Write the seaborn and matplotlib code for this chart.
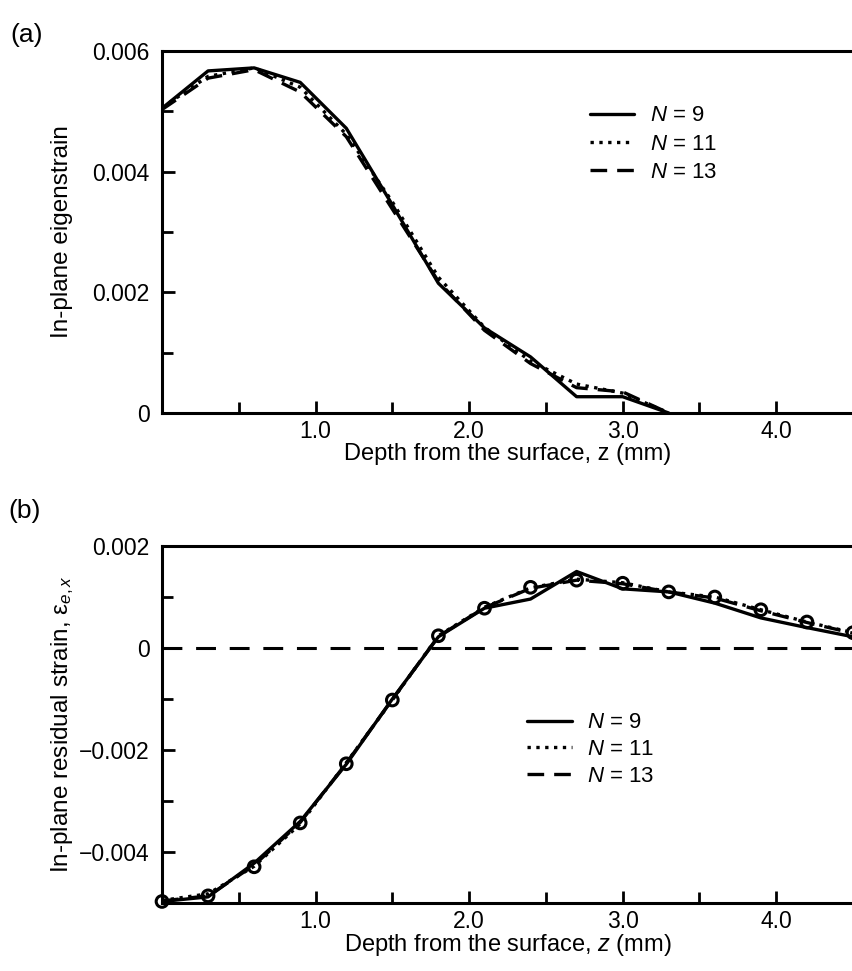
import numpy as np
import pandas as pd
import seaborn as sns
import matplotlib.pyplot as plt
from matplotlib.ticker import FixedLocator

# depth grid (mm)
depth = [0.0, 0.3, 0.6, 0.9, 1.2, 1.5, 1.8, 2.1, 2.4, 2.7, 3.0, 3.3]
depth_b = [0.0, 0.3, 0.6, 0.9, 1.2, 1.5, 1.8, 2.1, 2.4, 2.7, 3.0, 3.3, 3.6, 3.9, 4.2, 4.5]

# (a) in-plane eigenstrain
eig_n9 = [0.00505, 0.00567, 0.00572, 0.00548, 0.00472, 0.00345, 0.00215, 0.00141, 0.00093, 0.00027, 0.00027, 0.0]
eig_n11 = [0.00506, 0.00558, 0.00572, 0.00540, 0.00462, 0.00350, 0.00225, 0.00142, 0.00086, 0.00048, 0.00033, 0.0]
eig_n13 = [0.00503, 0.00555, 0.00569, 0.00532, 0.00458, 0.00338, 0.00218, 0.00137, 0.00082, 0.00042, 0.00035, 0.0]

# (b) in-plane residual strain
res_n9 = [-0.00497, -0.00488, -0.00422, -0.00340, -0.00228, -0.00100, 0.00022, 0.00078, 0.00096, 0.00150, 0.00116, 0.00110, 0.00088, 0.00059, 0.00040, 0.00022]
res_n11 = [-0.00495, -0.00482, -0.00428, -0.00345, -0.00225, -0.00102, 0.00024, 0.00080, 0.00118, 0.00135, 0.00128, 0.00110, 0.00100, 0.00075, 0.00051, 0.00030]
res_n13 = [-0.00496, -0.00486, -0.00426, -0.00342, -0.00226, -0.00101, 0.00023, 0.00079, 0.00117, 0.00133, 0.00126, 0.00110, 0.00098, 0.00073, 0.00050, 0.00029]
res_meas = [-0.00497, -0.00486, -0.00429, -0.00343, -0.00227, -0.00102, 0.00024, 0.00078, 0.00119, 0.00133, 0.00127, 0.00110, 0.00100, 0.00075, 0.00051, 0.00030]

labels = ['$\\it{N}$ = 9', '$\\it{N}$ = 11', '$\\it{N}$ = 13']

sns.set_style('ticks')
plt.rcParams['font.family'] = ['Liberation Sans', 'DejaVu Sans']
plt.rcParams['mathtext.fontset'] = 'custom'
plt.rcParams['mathtext.it'] = 'Liberation Sans:italic'
plt.rcParams['mathtext.rm'] = 'Liberation Sans'
for k in ('text.color', 'axes.labelcolor', 'xtick.color', 'ytick.color', 'axes.edgecolor'):
    plt.rcParams[k] = 'black'

fig = plt.figure(figsize=(8.53, 9.71), dpi=100)
ax1 = fig.add_axes([162/853, 1 - 413/971, (853 - 162)/853, (413 - 51)/971])
ax2 = fig.add_axes([162/853, 1 - 903/971, (853 - 162)/853, (903 - 546)/971])

styles = ['-', ':', (0, (5, 3))]
lw = 2.4

for y, lab, ls in zip([eig_n9, eig_n11, eig_n13], labels, styles):
    sns.lineplot(x=depth, y=y, ax=ax1, color='k', lw=lw, linestyle=ls, label=lab)

for y, lab, ls in zip([res_n9, res_n11, res_n13], labels, styles):
    sns.lineplot(x=depth_b, y=y, ax=ax2, color='k', lw=lw, linestyle=ls, label=lab)
sns.scatterplot(x=depth_b, y=res_meas, ax=ax2, marker='o', s=70, facecolor='none',
                edgecolor='k', linewidth=2.2, zorder=5, clip_on=False)
ax2.axhline(0, color='k', lw=2.2, linestyle=(0, (6.5, 4.5)), zorder=1)

for ax in (ax1, ax2):
    ax.set_xlim(0, 4.5)
    ax.spines['right'].set_visible(False)
    for s in ('left', 'top', 'bottom'):
        ax.spines[s].set_linewidth(2.2)
    ax.xaxis.set_major_locator(FixedLocator([1, 2, 3, 4]))
    ax.xaxis.set_minor_locator(FixedLocator([0.5, 1.5, 2.5, 3.5]))
    ax.set_xticklabels(['1.0', '2.0', '3.0', '4.0'])
    ax.tick_params(which='major', direction='in', length=9, width=2, labelsize=16.5,
                   top=False, right=False)
    ax.tick_params(axis='x', which='major', pad=5)
    ax.tick_params(axis='y', which='major', pad=9)
    ax.tick_params(which='minor', direction='in', length=8, width=2, top=False, right=False)

ax1.set_xlabel('Depth from the surface, z (mm)', fontsize=17, labelpad=0)
ax2.set_xlabel('Depth from the surface, $\\it{z}$ (mm)', fontsize=17, labelpad=-1)

ax1.set_ylim(0, 0.006)
ax1.yaxis.set_major_locator(FixedLocator([0, 0.002, 0.004, 0.006]))
ax1.yaxis.set_minor_locator(FixedLocator([0.001, 0.003, 0.005]))
ax1.set_yticklabels(['0', '0.002', '0.004', '0.006'])
ax1.set_ylabel('In-plane eigenstrain', fontsize=17.5, labelpad=14)

ax2.set_ylim(-0.005, 0.002)
ax2.yaxis.set_major_locator(FixedLocator([-0.004, -0.002, 0, 0.002]))
ax2.yaxis.set_minor_locator(FixedLocator([-0.003, -0.001, 0.001]))
ax2.set_yticklabels(['\u22120.004', '\u22120.002', '0', '0.002'])
ax2.set_ylabel('In-plane residual strain, \u03b5$_{e,x}$', fontsize=17.5, labelpad=2)

ax1.legend(loc='upper left', bbox_to_anchor=(0.59, 0.905), frameon=False, fontsize=16,
           handlelength=2.0, handletextpad=0.7, labelspacing=0.33)
ax2.legend(loc='upper left', bbox_to_anchor=(0.50, 0.59), frameon=False, fontsize=16,
           handlelength=2.0, handletextpad=0.7, labelspacing=0.26)

fig.text(0.012, 1 - 42/971, '(a)', fontsize=19)
fig.text(0.010, 1 - 518/971, '(b)', fontsize=19)

fig.savefig('out.png', dpi=100)
